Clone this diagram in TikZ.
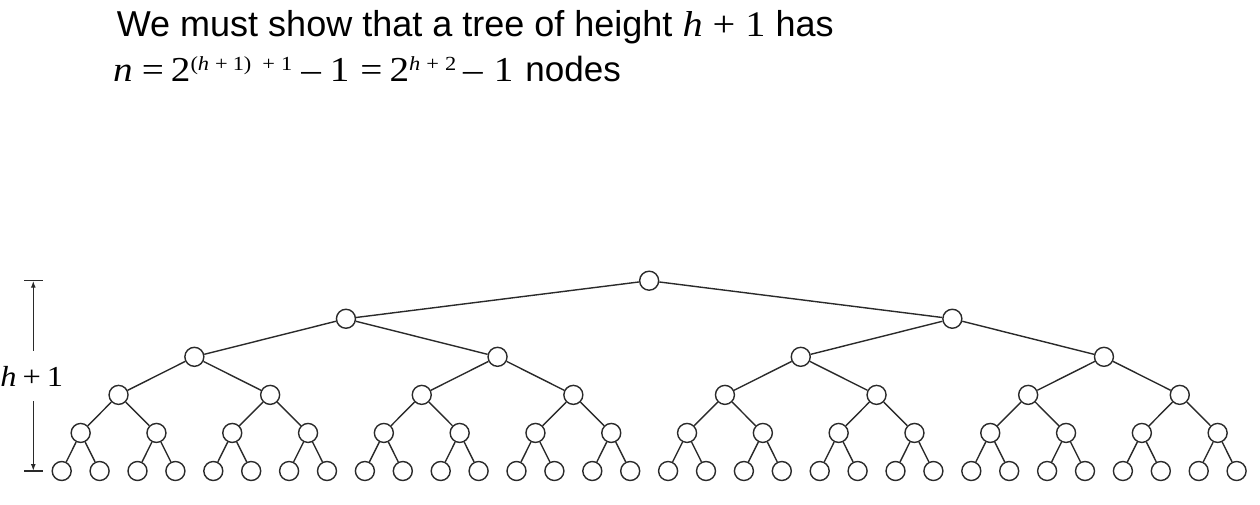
\documentclass[tikz,border=0pt]{standalone}
\usepackage{fontspec}
\setmainfont{Liberation Sans}
\newfontfamily\tms[FakeStretch=1.12]{Liberation Serif}
\usetikzlibrary{arrows.meta}
\definecolor{ink}{HTML}{2A2A2A}
\newcommand{\mi}[1]{{\tms\itshape #1}}
\newcommand{\mr}[1]{{\tms #1}}
\newcommand{\sups}[1]{\raisebox{11pt}{\fontsize{20}{20}\selectfont #1}}
\newcommand{\gp}[1]{\hspace{#1pt}}
\tikzset{
  tnode/.style={circle, draw=ink, fill=white, line width=1.4pt, minimum size=19pt, inner sep=0pt},
  edge/.style={draw=ink, line width=1.4pt},
  dim/.style={draw=ink, line width=1.4pt},
  dimarrow/.style={dim, -{Latex[length=7pt,width=5pt]}},
  title/.style={anchor=base west, inner sep=0pt, align=left, font=\fontsize{36}{45}\selectfont},
}
\begin{document}
\begin{tikzpicture}[x=1pt, y=-1pt]
\useasboundingbox (0,0) rectangle (1260,505);
% title
\node[title] (t1) at (116.7,36.7) {We must show that a tree of height \mi{h}\gp{10}\mr{+}\gp{10}\mr{1} has};
\node[title, font=\fontsize{35}{45}\selectfont] (t2) at (113,81.7) {\mi{n}\gp{9}\mr{=}\gp{7}\mr{2}\sups{\mr{(}\mi{h}\gp{6}\mr{+}\gp{5}\mr{1)}\gp{11}\mr{+}\gp{6}\mr{1}}\gp{9}\mr{–}\gp{9}\mr{1}\gp{11}\mr{=}\gp{7}\mr{2}\sups{\mi{h}\gp{6}\mr{+}\gp{6}\mr{2}}\gp{7}\mr{–}\gp{11}\mr{1}\gp{12}nodes};
% tree nodes
\foreach \L in {0,...,5}{
  \pgfmathtruncatemacro\cnt{2^\L-1}
  \foreach \i in {0,...,\cnt}{
    \pgfmathsetmacro\xx{61.7+37.9*((\i+0.5)*2^(5-\L)-0.5)}
    \pgfmathsetmacro\yy{280.7+38.06*\L}
    \node[tnode] (n-\L-\i) at (\xx,\yy) {};
  }
}
% tree edges
\foreach \L in {0,...,4}{
  \pgfmathtruncatemacro\cnt{2^\L-1}
  \pgfmathtruncatemacro\nl{\L+1}
  \foreach \i in {0,...,\cnt}{
    \pgfmathtruncatemacro\a{2*\i}
    \pgfmathtruncatemacro\b{2*\i+1}
    \draw[edge] (n-\L-\i) -- (n-\nl-\a);
    \draw[edge] (n-\L-\i) -- (n-\nl-\b);
  }
}
% dimension
\coordinate (dtop) at (33.3,280.7);
\coordinate (dbot) at (33.3,471);
\coordinate (ttl) at (24.3,280.7);
\coordinate (ttr) at (43.3,280.7);
\coordinate (tbl) at (24.3,471);
\coordinate (tbr) at (43.3,471);
\node[inner sep=0pt, minimum height=50pt, font=\fontsize{29}{29}\selectfont] (hl) at (31.7,376) {\mi{h}\gp{6}\mr{+}\gp{6}\mr{1}};
\draw[dim] (ttl) -- (ttr);
\draw[dim] (tbl) -- (tbr);
\draw[dimarrow] (hl.north -| dtop) -- (dtop);
\draw[dimarrow] (hl.south -| dbot) -- (dbot);
\end{tikzpicture}
\end{document}
